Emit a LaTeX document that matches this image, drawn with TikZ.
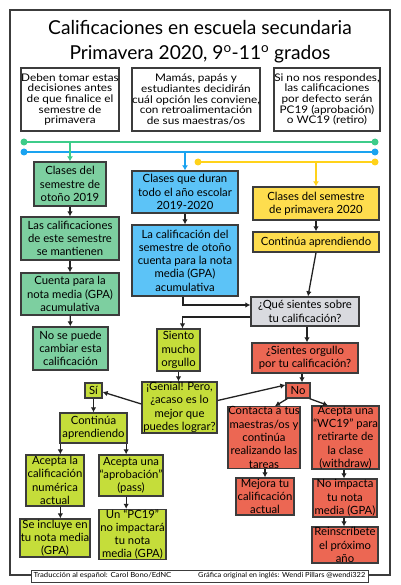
\documentclass[tikz,border=0pt]{standalone}
\usepackage{fontspec}
\setmainfont{Lato}
\newfontfamily\widefont{Lato}[FakeStretch=1.12]
\newfontfamily\footfontL{Lato}[FakeStretch=1.1]
\newfontfamily\footfontR{Lato}[FakeStretch=1.06]
\usetikzlibrary{arrows.meta,calc}
\definecolor{greenline}{HTML}{3DCC8A}
\definecolor{blueline}{HTML}{1AA3F0}
\definecolor{yellowline}{HTML}{FFD21A}
\definecolor{greenfill}{HTML}{7DCFA0}
\definecolor{bluefill}{HTML}{5CC3F7}
\definecolor{yellowfill}{HTML}{FEDD4E}
\definecolor{grayfill}{HTML}{D9DADF}
\definecolor{redfill}{HTML}{EC6753}
\definecolor{limefill}{HTML}{C5DD3A}
\definecolor{bordercol}{HTML}{3C3C3C}
\definecolor{arrowcol}{HTML}{222222}
\tikzset{
  box/.style={draw=bordercol, line width=1.3pt, inner sep=0pt, align=center,
    font=\fontsize{11.3}{13.3}\selectfont},
  topbox/.style={box, fill=white, font=\widefont\fontsize{10.5}{10.6}\selectfont},
  gbox/.style={box, fill=greenfill},
  bbox/.style={box, fill=bluefill},
  ybox/.style={box, fill=yellowfill},
  graybox/.style={box, fill=grayfill},
  rbox/.style={box, fill=redfill},
  lbox/.style={box, fill=limefill},
  arr/.style={draw=arrowcol, line width=1.3pt, -{Latex[length=5pt,width=5.5pt]}},
  busline/.style={line width=2.4pt},
  dot/.style={circle, inner sep=0pt, minimum size=7pt},
  foottext/.style={inner sep=0pt},
  titletext/.style={anchor=base, inner sep=0pt, font=\fontsize{19.2}{24}\selectfont},
}
\begin{document}
\begin{tikzpicture}[x=1pt,y=-1pt]
\useasboundingbox (0,0) rectangle (400,585);
% outer frame
\draw[draw=bordercol, line width=1.2pt] (10,10) rectangle (390,575);
% title
\node[titletext] (title1) at (200,35) {Calificaciones en escuela secundaria};
\node[titletext] (title2) at (200,60) {Primavera 2020, 9\textsuperscript{o}-11\textsuperscript{o} grados};
% top boxes
\node[topbox, minimum width=98pt, minimum height=63pt] (top1) at (70,99.5) {Deben tomar estas\\decisiones antes\\de que finalice el\\semestre de\\primavera};
\node[topbox, minimum width=126pt, minimum height=63pt] (top2) at (196,99.5) {Mamás, papás y\\estudiantes decidirán\\cuál opción les conviene,\\con retroalimentación\\de sus maestras/os};
\node[topbox, minimum width=106pt, minimum height=63pt] (top3) at (327,99.5) {Si no nos respondes,\\las calificaciones\\por defecto serán\\PC19 (aprobación)\\o WC19 (retiro)};
% bus lines
\coordinate (gL) at (24,142); \coordinate (gR) at (375,142);
\coordinate (bL) at (24,152); \coordinate (bR) at (375,152);
\coordinate (yL) at (198,162); \coordinate (yR) at (375,162);
\draw[busline, greenline] (gL) -- (gR);
\draw[busline, blueline] (bL) -- (bR);
\draw[busline, yellowline] (yL) -- (yR);
\node[dot, fill=greenline] (gLd) at (gL) {}; \node[dot, fill=greenline] (gRd) at (gR) {};
\node[dot, fill=blueline] (bLd) at (bL) {}; \node[dot, fill=blueline] (bRd) at (bR) {};
\node[dot, fill=yellowline] (yLd) at (yL) {}; \node[dot, fill=yellowline] (yRd) at (yR) {};
% green column
\node[gbox, minimum width=72pt, minimum height=44pt] (G1) at (70,184) {Clases del\\semestre de\\otoño 2019};
\node[gbox, minimum width=98pt, minimum height=43pt] (G2) at (70,238.5) {Las calificaciones\\de este semestre\\se mantienen};
\node[gbox, minimum width=98pt, minimum height=42pt] (G3) at (70,294) {Cuenta para la\\nota media (GPA)\\acumulativa};
\node[gbox, minimum width=75pt, minimum height=43pt] (G4) at (70.5,348.5) {No se puede\\cambiar esta\\calificación};
% blue column
\node[bbox, minimum width=106pt, minimum height=42pt] (B1) at (185,192) {Clases que duran\\todo el año escolar\\2019-2020};
\node[bbox, minimum width=106pt, minimum height=71pt] (B2) at (185,260.5) {La calificación del\\semestre de otoño\\cuenta para la nota\\media (GPA)\\acumulativa};
% yellow column
\node[ybox, minimum width=126pt, minimum height=33pt] (Y1) at (316,203.5) {Clases del semestre\\de primavera 2020};
\node[ybox, minimum width=126pt, minimum height=20pt] (Y2) at (316,242) {Continúa aprendiendo};
% gray and red
\node[graybox, minimum width=108pt, minimum height=29pt] (Q) at (305,311.5) {¿Qué sientes sobre\\tu calificación?};
\node[rbox, minimum width=106pt, minimum height=30pt] (S) at (305,358) {¿Sientes orgullo\\por tu calificación?};
\node[rbox, minimum width=24pt, minimum height=15pt] (No) at (298,390.5) {No};
\node[rbox, minimum width=72pt, minimum height=59pt] (C) at (264,437.5) {Contacta a tus\\maestras/os y\\continúa\\realizando las\\tareas};
\node[rbox, minimum width=67pt, minimum height=59pt] (W) at (345.5,437.5) {Acepta una\\“WC19” para\\retirarte de\\la clase\\(withdraw)};
\node[rbox, minimum width=58pt, minimum height=37pt] (M) at (265,496.5) {Mejora tu\\calificación\\actual};
\node[rbox, minimum width=64pt, minimum height=38pt] (NI) at (345,498) {No impacta\\tu nota\\media (GPA)};
\node[rbox, minimum width=66pt, minimum height=36pt] (R) at (345,545) {Reinscríbete\\el próximo\\año};
% lime
\node[lbox, minimum width=43pt, minimum height=42pt] (So) at (178.5,350) {Siento\\mucho\\orgullo};
\node[lbox, minimum width=75pt, minimum height=51pt] (Ge) at (179.5,407.5) {¡Genial! Pero,\\¿acaso es lo\\mejor que\\puedes lograr?};
\node[lbox, minimum width=17pt, minimum height=15pt] (Si) at (93.5,390.5) {Sí};
\node[lbox, minimum width=67pt, minimum height=30pt] (Co) at (93.5,428) {Continúa\\aprendiendo};
\node[lbox, minimum width=58pt, minimum height=51pt] (AL) at (55,480.5) {Acepta la\\calificación\\numérica\\actual};
\node[lbox, minimum width=64pt, minimum height=41pt] (AU) at (131,475.5) {Acepta una\\“aprobación”\\(pass)};
\node[lbox, minimum width=70pt, minimum height=38pt] (SI) at (55,538) {Se incluye en\\tu nota media\\(GPA)};
\node[lbox, minimum width=67pt, minimum height=49pt] (PC) at (132.5,534.5) {Un “PC19”\\no impactará\\tu nota\\media (GPA)};
% footer
\node[draw=bordercol, line width=1pt, fill=white, minimum width=337pt, minimum height=12pt, inner sep=0pt] (foot) at (199.5,576) {};
\node[foottext, anchor=west, font=\footfontL\fontsize{7}{8}\selectfont] (footL) at ([xshift=3pt]foot.west) {Traducción al español: Carol Bono/EdNC};
\node[foottext, anchor=east, font=\footfontR\fontsize{7}{8}\selectfont] (footR) at ([xshift=-3pt]foot.east) {Gráfica original en inglés: Wendi Pillars @wendi322};
% bus drops
\draw[busline, greenline, line width=1.6pt, -{Latex[length=5pt,width=6pt]}] (G1.north |- gL) -- (G1.north);
\draw[busline, blueline, line width=1.6pt, -{Latex[length=5pt,width=6pt]}] (B1.north |- bL) -- (B1.north);
\draw[busline, yellowline, line width=1.6pt, -{Latex[length=5pt,width=6pt]}] (Y1.north |- yL) -- (Y1.north);
% connectors
\draw[arr] (G1) -- (G2);
\draw[arr] (G2) -- (G3);
\draw[arr] (G3) -- (G4);
\draw[arr] (B1) -- (B2);
\draw[arr] (Y1) -- (Y2);
\draw[arr] (Y2.south) -- ([xshift=3pt]Q.north);
\draw[arr] ([xshift=-2pt]B2.south) |- ([yshift=6.5pt]Q.west);
\draw[arr] ([yshift=-5.5pt]Q.west) -| ([xshift=4pt]So.north);
\draw[arr] ([xshift=2pt]Q.south) -- ([xshift=2pt]Q.south |- S.north);
\draw[arr] ([xshift=-3pt]S.south) -- ([xshift=-3pt]S.south |- No.north);
\draw[arr] (So.south) -- (So.south |- Ge.north);
\draw[arr] ([yshift=3.5pt]Ge.west) -- ([yshift=-1.5pt]Si.east);
\draw[arr] ([yshift=7pt]Ge.east) -- ([yshift=5.5pt]No.west);
\draw[arr] ([xshift=2pt]No.south west) -- ([xshift=11pt]C.north);
\draw[arr] ([xshift=-1pt]No.south east) -- ([xshift=-17.5pt]W.north);
\draw[arr] (M.north |- C.south) -- (M.north);
\draw[arr] ([xshift=-1pt]NI.north |- W.south) -- ([xshift=-1pt]NI.north);
\draw[arr] ([xshift=-1pt]NI.south) -- ([xshift=-1pt]NI.south |- R.north);
\draw[arr] (Si) -- (Co);
\draw[arr] ([xshift=1pt]Co.south west) -- ([xshift=1pt]Co.south west |- AL.north);
\draw[arr] ([xshift=-1.5pt]Co.south east) -- ([xshift=-1.5pt]Co.south east |- AU.north);
\draw[arr] ([xshift=1pt]Co.south west |- AL.south) -- ([xshift=1pt]Co.south west |- SI.north);
\draw[arr] ([xshift=-1.5pt]Co.south east |- AU.south) -- ([xshift=-1.5pt]Co.south east |- PC.north);
\end{tikzpicture}
\end{document}
